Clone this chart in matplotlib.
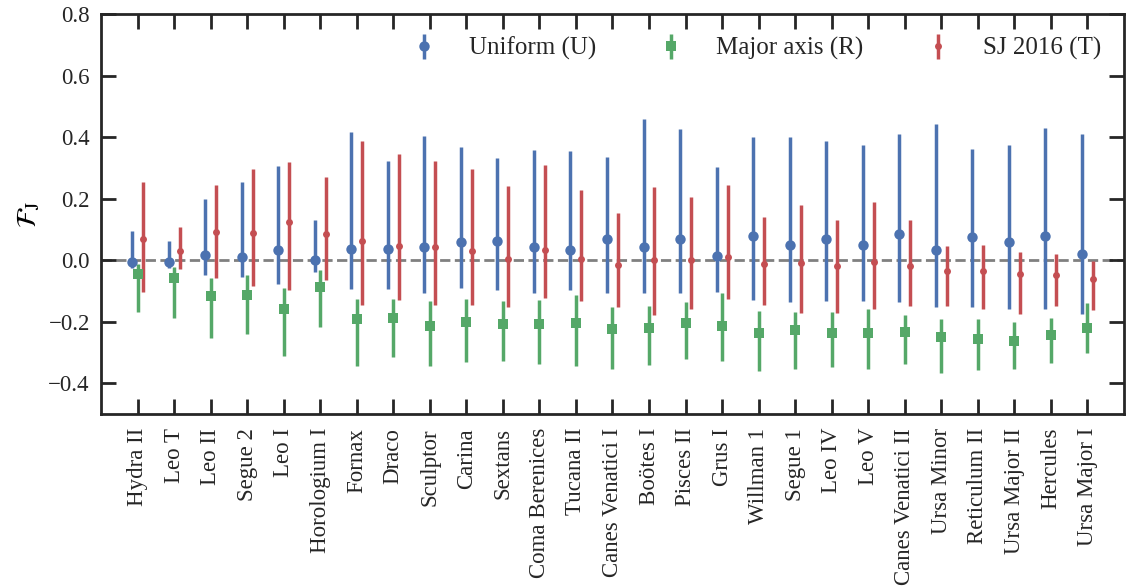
import numpy as np
import matplotlib
matplotlib.use("Agg")
import matplotlib.pyplot as plt

galaxies = ["Hydra II", "Leo T", "Leo II", "Segue 2", "Leo I", "Horologium I",
            "Fornax", "Draco", "Sculptor", "Carina", "Sextans", "Coma Berenices",
            "Tucana II", "Canes Venatici I", "Boötes I", "Pisces II", "Grus I",
            "Willman 1", "Segue 1", "Leo IV", "Leo V", "Canes Venatici II",
            "Ursa Minor", "Reticulum II", "Ursa Major II", "Hercules", "Ursa Major I"]

# Uniform (U): median and 68% interval
uni_mid = [-0.006, -0.004, 0.018, 0.012, 0.032, 0.002, 0.038, 0.038, 0.043, 0.060,
           0.063, 0.043, 0.032, 0.068, 0.042, 0.069, 0.015, 0.078, 0.049, 0.068,
           0.051, 0.086, 0.032, 0.077, 0.060, 0.078, 0.019]
uni_hi = [0.094, 0.064, 0.200, 0.254, 0.308, 0.132, 0.416, 0.322, 0.404, 0.368,
          0.333, 0.359, 0.357, 0.336, 0.459, 0.427, 0.304, 0.400, 0.400, 0.389,
          0.374, 0.410, 0.442, 0.361, 0.376, 0.429, 0.411]
uni_lo = [-0.025, -0.025, -0.049, -0.055, -0.076, -0.038, -0.093, -0.093, -0.106, -0.090,
          -0.098, -0.106, -0.097, -0.105, -0.106, -0.107, -0.103, -0.128, -0.135, -0.134,
          -0.131, -0.136, -0.152, -0.152, -0.160, -0.157, -0.176]

# Major axis (R)
maj_mid = [-0.046, -0.057, -0.115, -0.112, -0.158, -0.086, -0.192, -0.187, -0.213, -0.200,
           -0.206, -0.206, -0.203, -0.225, -0.221, -0.203, -0.213, -0.238, -0.228, -0.238,
           -0.238, -0.232, -0.248, -0.257, -0.261, -0.242, -0.219]
maj_hi = [-0.012, -0.023, -0.056, -0.049, -0.091, -0.031, -0.127, -0.125, -0.131, -0.125,
          -0.131, -0.128, -0.112, -0.153, -0.149, -0.136, -0.107, -0.166, -0.167, -0.167,
          -0.158, -0.177, -0.192, -0.190, -0.200, -0.187, -0.138]
maj_lo = [-0.169, -0.188, -0.254, -0.241, -0.311, -0.216, -0.344, -0.314, -0.344, -0.332,
          -0.327, -0.337, -0.344, -0.354, -0.339, -0.321, -0.327, -0.360, -0.353, -0.347,
          -0.352, -0.338, -0.365, -0.357, -0.354, -0.334, -0.302]

# SJ 2016 (T)
sj_mid = [0.069, 0.031, 0.092, 0.089, 0.126, 0.087, 0.062, 0.045, 0.043, 0.031,
          0.005, 0.034, 0.005, -0.014, 0.001, 0.001, 0.011, -0.012, -0.008, -0.020,
          -0.007, -0.020, -0.036, -0.036, -0.045, -0.047, -0.062]
sj_hi = [0.253, 0.109, 0.244, 0.296, 0.320, 0.270, 0.387, 0.345, 0.322, 0.297,
         0.242, 0.310, 0.228, 0.154, 0.237, 0.206, 0.245, 0.142, 0.180, 0.131,
         0.189, 0.131, 0.045, 0.049, 0.027, 0.022, -0.001]
sj_lo = [-0.103, -0.027, -0.058, -0.085, -0.098, -0.065, -0.147, -0.128, -0.147, -0.146,
         -0.152, -0.123, -0.133, -0.151, -0.177, -0.157, -0.127, -0.145, -0.171, -0.170,
         -0.158, -0.149, -0.149, -0.157, -0.174, -0.148, -0.162]

plt.rcParams["font.family"] = ["Liberation Serif", "DejaVu Serif"]
plt.rcParams["mathtext.fontset"] = "stix"
plt.rcParams["axes.edgecolor"] = "#262626"
plt.rcParams["xtick.color"] = "#262626"
plt.rcParams["ytick.color"] = "#262626"
plt.rcParams["text.color"] = "#262626"

BLUE, GREEN, RED = "#4C72B0", "#55A868", "#C44E52"

fig = plt.figure(figsize=(11.27, 5.87), dpi=100)
ax = fig.add_axes([0.0896, 0.2947, 0.9077, 0.6809])

x = np.arange(len(galaxies))


def draw(offset, mid, lo, hi, color, marker, ms, label):
    mid = np.asarray(mid)
    err = [mid - np.asarray(lo), np.asarray(hi) - mid]
    ax.errorbar(x + offset, mid, yerr=err, fmt=marker, color=color, ms=ms,
                mew=0, elinewidth=2.5, capsize=0, label=label, zorder=3)


ax.axhline(0.0, color="#808080", ls="--", lw=2, zorder=1)
draw(-0.15, uni_mid, uni_lo, uni_hi, BLUE, "o", 7.5, "Uniform (U)")
draw(0.0, maj_mid, maj_lo, maj_hi, GREEN, "s", 6.8, "Major axis (R)")
draw(0.15, sj_mid, sj_lo, sj_hi, RED, "o", 5.0, "SJ 2016 (T)")

ax.set_xlim(-1, 27)
ax.set_ylim(-0.5, 0.8)
ax.set_xticks(x)
ax.set_xticklabels(galaxies, rotation=90, fontsize=16.5)
ax.set_yticks([-0.4, -0.2, 0.0, 0.2, 0.4, 0.6, 0.8])
ax.tick_params(axis="y", labelsize=16.5)
ax.tick_params(direction="in", length=10.8, width=2, top=True, right=True)
ax.tick_params(axis="x", pad=10)
ax.tick_params(axis="y", pad=8)
for s in ax.spines.values():
    s.set_linewidth(2)

ax.set_ylabel(r"$\mathcal{F}_\mathrm{J}$", fontsize=20)

ax.legend(loc="upper right", ncol=3, frameon=False, fontsize=18)

fig.savefig("out.png", dpi=100)
